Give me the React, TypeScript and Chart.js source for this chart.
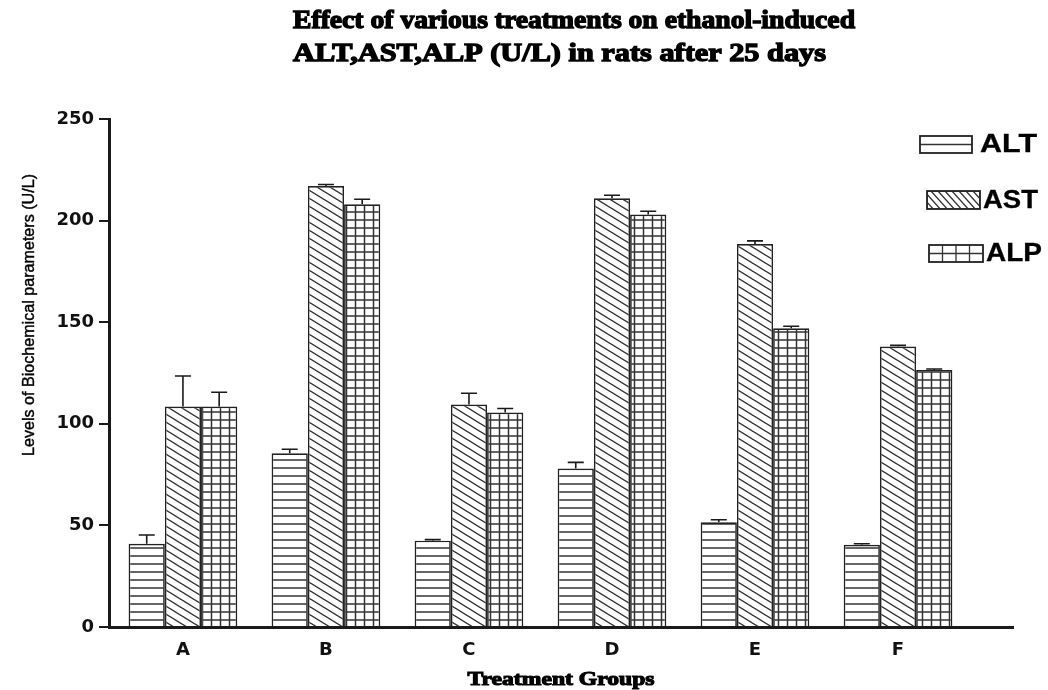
import React, { useEffect, useRef } from "react";
import { Chart, registerables } from "chart.js";

Chart.register(...registerables);

const groups = ["A", "B", "C", "D", "E", "F"];
const seriesNames = ["ALT", "AST", "ALP"];
const altValues = [41, 85.5, 42.5, 78, 51.5, 40.5];
const astValues = [108.5, 217, 109.5, 211, 188.5, 138];
const alpValues = [108.5, 208, 105.5, 203, 147, 126.5];
const altErrors = [4.3, 2, 0.5, 3, 1.3, 0.5];
const astErrors = [15, 0.8, 5.5, 1.5, 1.5, 0.6];
const alpErrors = [7, 2.5, 2, 1.6, 1, 0.5];
const yTicks = [0, 50, 100, 150, 200, 250];
const titleLines = [
  "Effect of various treatments on ethanol-induced",
  "ALT,AST,ALP (U/L) in rats after 25 days",
];
const yTitle = "Levels of Biochemical parameters (U/L)";
const xTitle = "Treatment Groups";

const valueSets = [altValues, astValues, alpValues];
const errorSets = [altErrors, astErrors, alpErrors];
const INK = "#1a1a1a";

function makePattern(kind: string): CanvasPattern | string {
  const c = document.createElement("canvas");
  const ctx = c.getContext("2d");
  if (!ctx) return "#fff";
  if (kind === "h") {
    c.width = 8; c.height = 8;
    ctx.fillStyle = "#fff"; ctx.fillRect(0, 0, 8, 8);
    ctx.strokeStyle = "#333"; ctx.lineWidth = 1.5;
    ctx.beginPath(); ctx.moveTo(0, 4); ctx.lineTo(8, 4); ctx.stroke();
  } else if (kind === "d") {
    c.width = 13; c.height = 8;
    ctx.fillStyle = "#fff"; ctx.fillRect(0, 0, 13, 8);
    ctx.strokeStyle = "#333"; ctx.lineWidth = 1.4;
    ctx.beginPath();
    for (const k of [-13, 0, 13]) {
      ctx.moveTo(k - 1.625, -1); ctx.lineTo(k + 14.625, 9);
    }
    ctx.stroke();
  } else {
    c.width = 9; c.height = 8;
    ctx.fillStyle = "#fff"; ctx.fillRect(0, 0, 9, 8);
    ctx.strokeStyle = "#333"; ctx.lineWidth = 1.5;
    ctx.beginPath();
    ctx.moveTo(0, 4); ctx.lineTo(9, 4);
    ctx.moveTo(4.5, 0); ctx.lineTo(4.5, 8);
    ctx.stroke();
  }
  return ctx.createPattern(c, "repeat") || "#fff";
}

function fitText(ctx: CanvasRenderingContext2D, text: string, x: number, y: number, width: number, align: string, stroke = 0) {
  const w = ctx.measureText(text).width;
  const sx = width / w;
  ctx.save();
  ctx.translate(x, y);
  ctx.scale(sx, 1);
  const ox = align === "center" ? -w / 2 : 0;
  ctx.fillText(text, ox, 0);
  if (stroke > 0) {
    ctx.lineWidth = stroke;
    ctx.strokeText(text, ox, 0);
  }
  ctx.restore();
}

const errorBarPlugin = {
  id: "errorBars",
  afterDatasetsDraw(chart: any) {
    const ctx = chart.ctx as CanvasRenderingContext2D;
    const yScale = chart.scales.y;
    ctx.save();
    ctx.strokeStyle = INK;
    ctx.lineWidth = 1.6;
    chart.data.datasets.forEach((_: any, di: number) => {
      const meta = chart.getDatasetMeta(di);
      meta.data.forEach((el: any, i: number) => {
        const v = valueSets[di][i];
        const e = errorSets[di][i];
        const x = el.x;
        const y0 = yScale.getPixelForValue(v);
        const y1 = yScale.getPixelForValue(v + e);
        ctx.beginPath();
        ctx.moveTo(x, y0);
        ctx.lineTo(x, y1);
        ctx.moveTo(x - 8, y1);
        ctx.lineTo(x + 8, y1);
        ctx.stroke();
      });
    });
    ctx.restore();
  },
};

const textPlugin = {
  id: "texts",
  afterDraw(chart: any) {
    const ctx = chart.ctx as CanvasRenderingContext2D;
    ctx.save();
    ctx.fillStyle = "#000";
    ctx.strokeStyle = "#000";
    ctx.textBaseline = "alphabetic";
    // Title
    ctx.font = "bold 25px 'Liberation Serif'";
    fitText(ctx, titleLines[0], 293, 28, 562, "left", 1.3);
    fitText(ctx, titleLines[1], 293, 61, 533, "left", 1.3);
    // X title
    ctx.font = "bold 19px 'Liberation Serif'";
    fitText(ctx, xTitle, 561, 685, 187, "center", 1.1);
    // Y title
    ctx.font = "16px 'Liberation Sans'";
    ctx.save();
    ctx.translate(34, 315);
    ctx.rotate(-Math.PI / 2);
    fitText(ctx, yTitle, 0, 0, 282, "center", 0.4);
    ctx.restore();
    // Legend
    const boxes = [
      { x: 920, y: 136, w: 52, h: 17, tx: 980, tw: 57 },
      { x: 927, y: 191, w: 53, h: 18, tx: 983, tw: 55 },
      { x: 929, y: 245, w: 54, h: 17, tx: 986, tw: 56 },
    ];
    boxes.forEach((b, i) => {
      ctx.save();
      ctx.fillStyle = "#fff";
      ctx.fillRect(b.x, b.y, b.w, b.h);
      ctx.strokeStyle = "#333";
      ctx.lineWidth = 1.3;
      ctx.beginPath();
      if (i === 0) {
        ctx.moveTo(b.x, b.y + b.h / 2); ctx.lineTo(b.x + b.w, b.y + b.h / 2);
      } else if (i === 1) {
        ctx.rect(b.x, b.y, b.w, b.h);
        ctx.clip();
        for (let k = -24; k < b.w + 24; k += 7) {
          ctx.moveTo(b.x + k, b.y); ctx.lineTo(b.x + k + b.h * 0.9, b.y + b.h);
        }
      } else {
        ctx.moveTo(b.x, b.y + b.h / 2); ctx.lineTo(b.x + b.w, b.y + b.h / 2);
        for (let k = 1; k < 4; k++) {
          ctx.moveTo(b.x + (b.w * k) / 4, b.y); ctx.lineTo(b.x + (b.w * k) / 4, b.y + b.h);
        }
      }
      ctx.stroke();
      ctx.restore();
      ctx.save();
      ctx.strokeStyle = "#222";
      ctx.lineWidth = 1.8;
      ctx.strokeRect(b.x, b.y, b.w, b.h);
      ctx.restore();
      ctx.font = "bold 25px 'Liberation Sans'";
      ctx.textBaseline = "middle";
      fitText(ctx, seriesNames[i], b.tx, b.y + b.h / 2 + 1, b.tw, "left", 0.3);
    });
    ctx.restore();
  },
};

export default function App() {
  const ref = useRef<HTMLCanvasElement | null>(null);
  useEffect(() => {
    if (!ref.current) return;
    const patterns = [makePattern("h"), makePattern("d"), makePattern("g")];
    const tickFont = { family: "'DejaVu Sans'", weight: "bold" as const, size: 18 };
    const chart = new Chart(ref.current, {
      type: "bar",
      data: {
        datasets: seriesNames.map((name, s) => ({
          label: name,
          data: groups.map((_, i) => ({ x: i, y: valueSets[s][i] })),
          backgroundColor: patterns[s] as any,
          borderColor: "#222",
          borderWidth: 1.7,
          categoryPercentage: 0.76,
          barPercentage: 1,
        })),
      },
      options: {
        animation: false,
        responsive: false,
        maintainAspectRatio: false,
        layout: { padding: { top: 119, right: 35, bottom: 0, left: 0 } },
        plugins: {
          legend: { display: false },
          title: { display: false },
          tooltip: { enabled: false },
        },
        scales: {
          x: {
            type: "linear",
            min: -0.517,
            max: 5.804,
            offset: false,
            grid: { display: true, drawOnChartArea: false, drawTicks: false },
            border: { display: true, color: INK, width: 3 },
            afterBuildTicks: (axis: any) => {
              axis.ticks = groups.map((_, i) => ({ value: i }));
            },
            afterFit: (axis: any) => {
              axis.height = 63;
            },
            ticks: {
              callback: (v: any) => groups[Math.round(Number(v))] ?? "",
              font: tickFont,
              color: "#111",
              padding: 13,
              maxRotation: 0,
              autoSkip: false,
            },
          },
          y: {
            min: 0,
            max: 250,
            grid: { display: true, drawOnChartArea: false, drawTicks: true, tickLength: 10, color: INK, lineWidth: 2 },
            border: { display: true, color: INK, width: 3 },
            afterBuildTicks: (axis: any) => {
              axis.ticks = yTicks.map((v) => ({ value: v }));
            },
            afterFit: (axis: any) => {
              axis.width = 109;
            },
            ticks: { font: tickFont, color: "#111", padding: 5 },
          },
        },
      } as any,
      plugins: [errorBarPlugin, textPlugin],
    });
    return () => chart.destroy();
  }, []);
  return (
    <div style={{ position: "fixed", left: 0, top: 0, width: 1048, height: 690, background: "#fff" }}>
      <canvas ref={ref} width={1048} height={690} style={{ width: 1048, height: 690, display: "block" }} />
    </div>
  );
}
